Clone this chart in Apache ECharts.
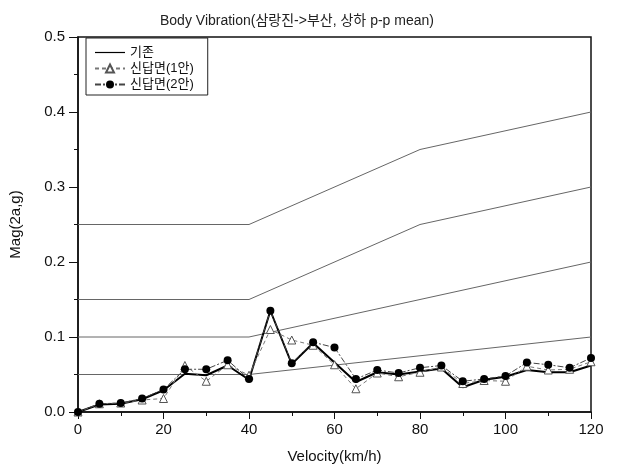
<!DOCTYPE html>
<html>
<head>
<meta charset="utf-8">
<script src="https://cdn.jsdelivr.net/npm/echarts@6/dist/echarts.min.js"></script>
<style>html,body{margin:0;padding:0;background:#fff}#c{width:618px;height:470px}</style>
</head>
<body>
<div id="c"></div>
<script>
// ---- data ----
const velocity = [0,5,10,15,20,25,30,35,40,45,50,55,60,65,70,75,80,85,90,95,100,105,110,115,120];
const existing = [0,0.010,0.011,0.017,0.029,0.051,0.049,0.062,0.043,0.135,0.064,0.092,0.066,0.040,0.053,0.050,0.054,0.058,0.033,0.043,0.047,0.056,0.053,0.053,0.062];
const plan1 = [0,0.011,0.012,0.016,0.018,0.062,0.041,0.063,0.049,0.110,0.096,0.089,0.063,0.031,0.052,0.047,0.053,0.060,0.038,0.042,0.041,0.061,0.056,0.057,0.067];
const plan2 = [0,0.011,0.012,0.018,0.030,0.057,0.057,0.069,0.044,0.135,0.065,0.093,0.086,0.044,0.056,0.052,0.059,0.062,0.041,0.044,0.048,0.066,0.063,0.059,0.072];
const limitX = [0,40,80,120];
const limit1 = [0.25,0.25,0.35,0.40];
const limit2 = [0.15,0.15,0.25,0.30];
const limit3 = [0.10,0.10,0.15,0.20];
const limit4 = [0.05,0.05,0.075,0.10];
const seriesNames = ['기존','신답면(1안)','신답면(2안)'];
const titleText = 'Body Vibration(삼랑진->부산, 상하 p-p mean)';
const xName = 'Velocity(km/h)';
const yName = 'Mag(2a,g)';

const pairs = (xs, ys) => xs.map((x,i) => [x, ys[i]]);
const FONT = '"Liberation Sans", Arial, "Noto Sans CJK KR", sans-serif';

const limitSeries = [limit1, limit2, limit3, limit4].map((d,i) => ({
  name: 'limit' + i, type: 'line', data: pairs(limitX, d), symbol: 'none',
  lineStyle: {color: '#666', width: 1}, silent: true, z: 1
}));

const chart = echarts.init(document.getElementById('c'), null, {renderer: 'canvas'});
chart.setOption({
  animation: false,
  backgroundColor: '#fff',
  title: {
    text: titleText, left: 155, top: 9,
    textStyle: {fontFamily: FONT, fontSize: 14, fontWeight: 'normal', color: '#222'}
  },
  legend: {
    data: [
      {name: seriesNames[0], icon: 'path://M0,0 M30,10 M0,4.4 L30,4.4 L30,5.6 L0,5.6 Z', itemStyle: {color: '#000'}},
      {name: seriesNames[1]},
      {name: seriesNames[2]}
    ],
    orient: 'vertical', left: 86, top: 38,
    borderColor: '#222', borderWidth: 1, borderRadius: 0,
    padding: [8, 14, 4, 8], itemGap: 3, itemWidth: 30, itemHeight: 10,
    textStyle: {fontFamily: FONT, fontSize: 13, color: '#111'}
  },
  grid: {left: 77, right: 27, top: 37, bottom: 58, show: true, borderColor: '#111', borderWidth: 1.5},
  xAxis: {
    type: 'value', min: 0, max: 120, interval: 20,
    name: xName, nameLocation: 'middle', nameGap: 37,
    nameTextStyle: {fontFamily: FONT, fontSize: 15, color: '#111'},
    axisLine: {show: true, onZero: false, lineStyle: {color: '#111', width: 1.5}},
    axisTick: {show: true, length: 7, inside: false, lineStyle: {color: '#111'}},
    minorTick: {show: true, splitNumber: 2, length: 4, lineStyle: {color: '#111'}},
    axisLabel: {fontFamily: FONT, fontSize: 15, color: '#111', margin: 10},
    splitLine: {show: false}
  },
  yAxis: {
    type: 'value', min: 0, max: 0.5, interval: 0.1,
    name: yName, nameLocation: 'middle', nameGap: 55, nameRotate: 90,
    nameTextStyle: {fontFamily: FONT, fontSize: 15, color: '#111'},
    axisLine: {show: true, onZero: false, lineStyle: {color: '#111', width: 1.5}},
    axisTick: {show: true, length: 9, inside: false, lineStyle: {color: '#111'}},
    minorTick: {show: true, splitNumber: 2, length: 4, lineStyle: {color: '#111'}},
    axisLabel: {fontFamily: FONT, fontSize: 15, color: '#111', margin: 13, formatter: v => v.toFixed(1)},
    splitLine: {show: false}
  },
  series: limitSeries.concat([
    {
      name: seriesNames[0], type: 'line', data: pairs(velocity, existing),
      symbol: 'none', lineStyle: {color: '#000', width: 2}, itemStyle: {color: '#000'}, z: 3
    },
    {
      name: seriesNames[1], type: 'line', data: pairs(velocity, plan1),
      symbol: 'triangle', symbolSize: 8, showSymbol: true,
      lineStyle: {color: '#777', width: 1, type: [4, 3]},
      itemStyle: {color: '#fff', borderColor: '#555', borderWidth: 1}, z: 4
    },
    {
      name: seriesNames[2], type: 'line', data: pairs(velocity, plan2),
      symbol: 'circle', symbolSize: 8, showSymbol: true,
      lineStyle: {color: '#444', width: 1, type: [6, 2, 2, 2]},
      itemStyle: {color: '#000', borderColor: '#000', borderWidth: 0}, z: 5
    }
  ])
});
</script>
</body>
</html>
